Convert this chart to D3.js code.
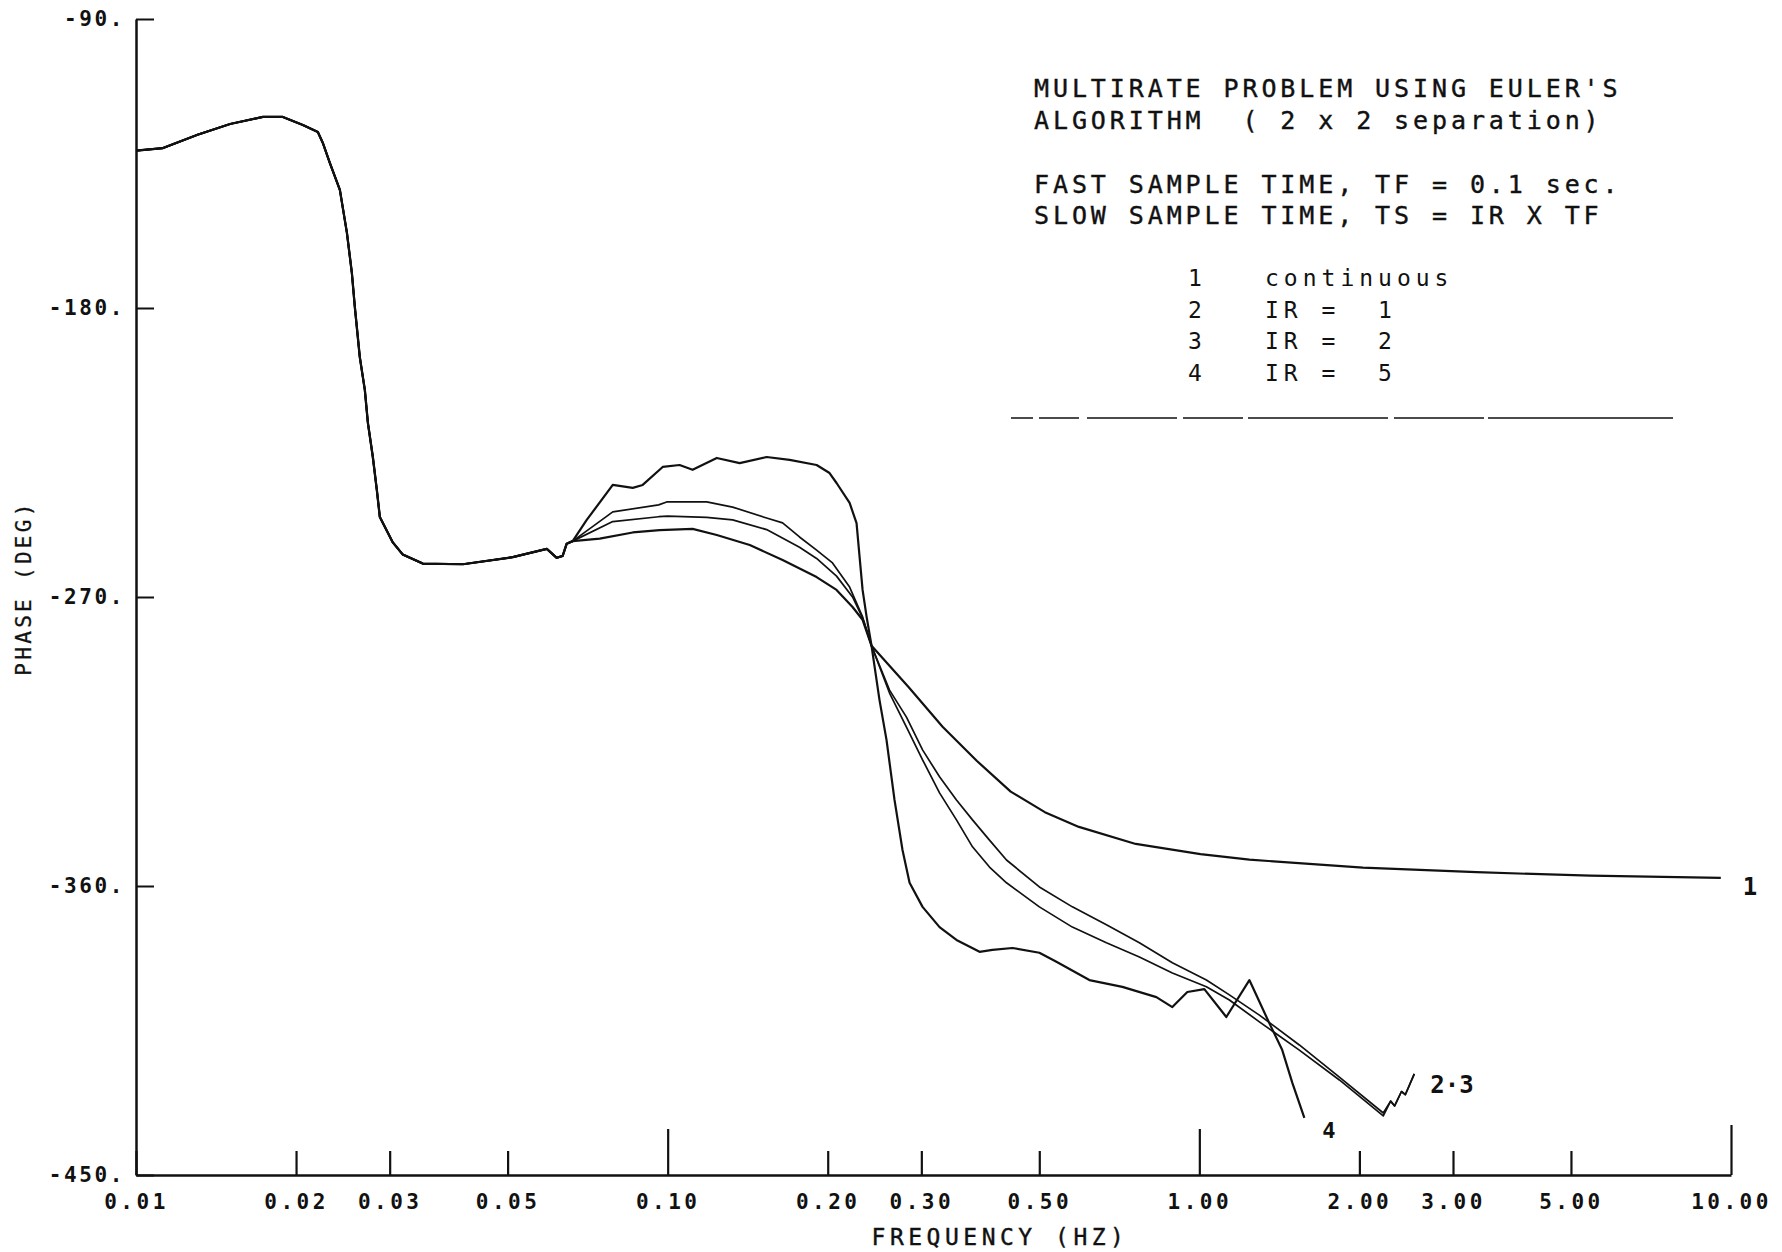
<!DOCTYPE html>
<html>
<head>
<meta charset="utf-8">
<script src="https://cdn.jsdelivr.net/npm/d3@7"></script>
<style>
  body { margin: 0; background: #fff; }
  text { font-family: 'DejaVu Sans Mono', monospace; fill: #111; }
</style>
</head>
<body>
<div id="chart"></div>
<script>
// Frequency ticks (Hz) and phase ticks (deg)
const freqTicks = [0.01, 0.02, 0.03, 0.05, 0.1, 0.2, 0.3, 0.5, 1, 2, 3, 5, 10];
const majorFreqs = [0.1, 1, 10];
const phaseTicks = [-90, -180, -270, -360, -450];

// part shared by all four curves (freq, phase)
const sharedStart = [
  [0.01, -131], [0.01124, -130.2], [0.01302, -126.1], [0.01503, -122.7],
  [0.01733, -120.5], [0.01889, -120.5], [0.0206, -123.0], [0.02198, -125.2],
  [0.02246, -128.6], [0.02315, -134.8], [0.02418, -143.2], [0.02493, -156.6],
  [0.02547, -169.1], [0.0258, -179.7], [0.02636, -195.3], [0.02694, -205.5],
  [0.0273, -215.8], [0.02789, -226.4], [0.02838, -236.7], [0.02875, -245.1],
  [0.03041, -253.0], [0.03176, -256.8], [0.03463, -259.6], [0.04119, -259.8],
  [0.05112, -257.6], [0.05925, -255.0], [0.06185, -257.8], [0.06346, -257.2],
  [0.06458, -253.4], [0.06627, -252.6]
];

// curve 1: continuous
const curve1 = [
  [0.07451, -251.8], [0.08596, -249.9], [0.0966, -249.2], [0.1114, -248.8],
  [0.1237, -250.7], [0.1427, -253.8], [0.1645, -258.5], [0.1906, -263.8],
  [0.2078, -267.8], [0.2227, -273.1], [0.2326, -277.1], [0.2418, -285.2],
  [0.2838, -298.0], [0.3289, -310.4], [0.3813, -321.0], [0.4418, -330.6],
  [0.5122, -337.0], [0.5936, -341.6], [0.7593, -346.9], [1.005, -350.1],
  [1.242, -351.8], [2.031, -354.3], [3.322, -355.7], [5.433, -356.8],
  [9.568, -357.5]
];

// curve 2: IR = 1
const curve2 = [
  [0.07884, -246.5], [0.09618, -245.0], [0.1, -244.8], [0.1184, -245.2],
  [0.1325, -246.0], [0.1535, -249.0], [0.1770, -254.5], [0.1906, -258.0],
  [0.2078, -263.5], [0.2227, -270.0], [0.2326, -276.5], [0.2418, -285.2],
  [0.2614, -299.0], [0.2813, -307.4], [0.3016, -317.6], [0.3246, -326.0],
  [0.3493, -333.2], [0.3744, -339.4], [0.403, -345.7], [0.4338, -351.9],
  [0.5002, -360.3], [0.577, -366.5], [0.6687, -372.1], [0.7713, -377.7],
  [0.8897, -383.9], [1.031, -389.3], [1.139, -393.9], [1.297, -400.2],
  [1.542, -409.5], [1.834, -419.5], [2.218, -430.7], [2.29, -427.0],
  [2.33, -428.5], [2.40, -424.0], [2.44, -425.0], [2.537, -418.5]
];

// curve 3: IR = 2
const curve3 = [
  [0.07884, -243.5], [0.09618, -241.3], [0.09957, -240.4], [0.1184, -240.4],
  [0.1325, -242.0], [0.1535, -245.4], [0.1645, -246.9], [0.177, -251.3],
  [0.1906, -255.4], [0.2042, -259.4], [0.2199, -266.9], [0.2326, -276.2],
  [0.2418, -285.2], [0.2614, -299.9], [0.2813, -310.5], [0.3016, -320.7],
  [0.3246, -331.0], [0.3493, -339.4], [0.3744, -347.8], [0.403, -354.1],
  [0.4338, -359.0], [0.5002, -366.5], [0.577, -372.8], [0.6687, -377.7],
  [0.7713, -382.1], [0.8897, -387.1], [1.031, -391.4], [1.139, -395.5],
  [1.297, -402.3], [1.542, -411.1], [1.834, -420.4], [2.218, -431.6],
  [2.29, -427.0], [2.33, -428.5], [2.40, -424.0], [2.44, -425.0], [2.537, -418.5]
];

// curve 4: IR = 5
const curve4 = [
  [0.07043, -246.0], [0.07884, -235.1], [0.08596, -236.0], [0.08975, -235.1],
  [0.09786, -229.5], [0.1053, -228.9], [0.1114, -230.4], [0.1237, -226.7],
  [0.1366, -228.3], [0.1535, -226.4], [0.1696, -227.3], [0.1906, -228.9],
  [0.2016, -231.4], [0.2078, -234.5], [0.2199, -240.7], [0.2266, -247.0],
  [0.2296, -257.5], [0.2326, -267.8], [0.2367, -276.2], [0.2418, -285.2],
  [0.2503, -302.1], [0.258, -314.5], [0.2671, -333.2], [0.2765, -348.8],
  [0.2851, -359.0], [0.3016, -366.5], [0.3246, -372.8], [0.3493, -376.8],
  [0.386, -380.5], [0.4082, -379.9], [0.4452, -379.3], [0.5002, -380.8],
  [0.5385, -383.6], [0.6211, -389.3], [0.7166, -391.4], [0.8302, -394.6],
  [0.8897, -397.7], [0.9493, -393.0], [1.022, -392.1], [1.124, -400.8],
  [1.242, -389.3], [1.354, -402.7], [1.432, -411.1], [1.496, -421.3],
  [1.576, -432.2]
];

const titleLines = [
  "MULTIRATE PROBLEM USING EULER'S",
  'ALGORITHM  ( 2 x 2 separation)',
  'FAST SAMPLE TIME, TF = 0.1 sec.',
  'SLOW SAMPLE TIME, TS = IR X TF'
];
const legendKeys = ['1', '2', '3', '4'];
const legendNames = ['continuous', 'IR =  1', 'IR =  2', 'IR =  5'];

const width = 1782;
const height = 1252;
const plotLeft = 136;
const plotRight = 1731;
const plotTop = 19;
const plotBottom = 1175;

const svg = d3.select('#chart')
  .append('svg')
  .attr('width', width)
  .attr('height', height)
  .style('background', '#fff');

const xscale = d3.scaleLog().domain([0.01, 10]).range([plotLeft, plotRight]);
const yscale = d3.scaleLinear().domain([-450, -90]).range([plotBottom, plotTop]);

// x axis, ticks pointing up
const xAxis = d3.axisBottom(xscale)
  .tickValues(freqTicks)
  .tickFormat(d3.format('.2f'))
  .tickSizeInner(-24)
  .tickSizeOuter(0)
  .tickPadding(20);

const xg = svg.append('g')
  .attr('transform', `translate(0, ${plotBottom})`)
  .call(xAxis);
xg.select('.domain').attr('stroke', '#111').attr('stroke-width', 2.5);
xg.selectAll('.tick line')
  .attr('stroke', '#111')
  .attr('stroke-width', 2.2)
  .attr('y2', (d) => (d === 10 ? -50 : majorFreqs.includes(d) ? -46 : -24));
xg.selectAll('.tick text')
  .attr('y', 19)
  .style('font-size', '21px')
  .style('font-weight', 'bold')
  .style('letter-spacing', '3.5px')
  .attr('fill', '#111');

// y axis, ticks pointing right
const yAxis = d3.axisLeft(yscale)
  .tickValues(phaseTicks)
  .tickFormat((d) => `${d}.`)
  .tickSizeInner(-18)
  .tickSizeOuter(0)
  .tickPadding(11);

const yg = svg.append('g')
  .attr('transform', `translate(${plotLeft}, 0)`)
  .call(yAxis);
yg.select('.domain').attr('stroke', '#111').attr('stroke-width', 2.5);
yg.selectAll('.tick line').attr('stroke', '#111').attr('stroke-width', 2);
yg.selectAll('.tick text')
  .style('font-size', '21px')
  .style('font-weight', 'bold')
  .style('letter-spacing', '2.6px')
  .attr('fill', '#111');

// axis titles
svg.append('text')
  .attr('x', 1000)
  .attr('y', 1245)
  .attr('text-anchor', 'middle')
  .style('font-size', '23px')
  .style('letter-spacing', '4.5px')
  .attr('stroke', '#111')
  .attr('stroke-width', 0.4)
  .text('FREQUENCY (HZ)');

svg.append('text')
  .attr('transform', 'translate(31, 588) rotate(-90)')
  .attr('text-anchor', 'middle')
  .style('font-size', '21px')
  .style('letter-spacing', '3.3px')
  .attr('stroke', '#111')
  .attr('stroke-width', 0.3)
  .text('PHASE (DEG)');

// curves
const line = d3.line()
  .x((d) => xscale(d[0]))
  .y((d) => yscale(d[1]));

const curves = [curve1, curve2, curve3, curve4];
curves.forEach((c, i) => {
  svg.append('path')
    .datum(sharedStart.concat(c))
    .attr('fill', 'none')
    .attr('stroke', '#111')
    .attr('stroke-width', i === 1 || i === 2 ? 1.7 : 2.2)
    .attr('stroke-linejoin', 'round')
    .attr('d', line);
});

// curve end labels
const lastOf = (c) => c[c.length - 1];
svg.append('text')
  .attr('x', xscale(lastOf(curve1)[0]) + 22)
  .attr('y', yscale(lastOf(curve1)[1]) + 17)
  .style('font-size', '24px')
  .style('font-weight', 'bold')
  .text('1');
svg.append('text')
  .attr('x', xscale(lastOf(curve2)[0]) + 16)
  .attr('y', yscale(lastOf(curve2)[1]) + 19)
  .style('font-size', '24px')
  .style('font-weight', 'bold')
  .text('2\u00b73');
svg.append('text')
  .attr('x', xscale(lastOf(curve4)[0]) + 18)
  .attr('y', yscale(lastOf(curve4)[1]) + 20)
  .style('font-size', '22px')
  .style('font-weight', 'bold')
  .text('4');

// title block
const titleY = [97, 129, 193, 224];
titleLines.forEach((t, i) => {
  svg.append('text')
    .attr('x', 1034)
    .attr('y', titleY[i])
    .style('white-space', 'pre')
    .style('font-size', '25px')
    .style('letter-spacing', '3.9px')
    .attr('stroke', '#111')
    .attr('stroke-width', 0.4)
    .text(t);
});

const legendY = [286, 318, 349, 381];
legendKeys.forEach((k, i) => {
  svg.append('text')
    .attr('x', 1188)
    .attr('y', legendY[i])
    .style('font-size', '23px')
    .text(k);
  svg.append('text')
    .attr('x', 1265)
    .attr('y', legendY[i])
    .style('white-space', 'pre')
    .style('font-size', '23px')
    .style('letter-spacing', '5px')
    .text(legendNames[i]);
});

svg.append('line')
  .attr('x1', 1011)
  .attr('x2', 1673)
  .attr('y1', 418)
  .attr('y2', 418)
  .attr('stroke', '#111')
  .attr('stroke-width', 1.6)
  .attr('stroke-dasharray', '22,6,40,8,90,6,60,5,140,6,90,4,200');
</script>
</body>
</html>
